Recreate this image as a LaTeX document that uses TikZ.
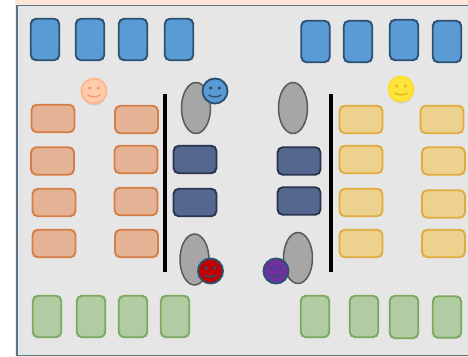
\documentclass[tikz,border=0pt]{standalone}
\usepackage{tikz}
\usetikzlibrary{shapes.geometric,shadows}
\definecolor{page}{HTML}{FDE6D8}
\definecolor{floorgrey}{HTML}{E6E6E6}
\definecolor{frameline}{HTML}{5D7389}
\definecolor{blueseat}{HTML}{5B9BD5}
\definecolor{blueline}{HTML}{2C5273}
\definecolor{orangeseat}{HTML}{E4B294}
\definecolor{orangeline}{HTML}{D57F47}
\definecolor{yellowseat}{HTML}{ECD18F}
\definecolor{yellowline}{HTML}{E0AC3F}
\definecolor{greenseat}{HTML}{B1CCA2}
\definecolor{greenline}{HTML}{7BA95E}
\definecolor{navyseat}{HTML}{55668F}
\definecolor{navyline}{HTML}{2A3550}
\definecolor{padgrey}{HTML}{A6A6A6}
\definecolor{padline}{HTML}{595959}
\definecolor{peachface}{HTML}{FFCBAB}
\definecolor{peachline}{HTML}{FFB68C}
\definecolor{peacheye}{HTML}{EFA071}
\definecolor{sunface}{HTML}{FFE53B}
\definecolor{sunline}{HTML}{FFDD2E}
\definecolor{sunmark}{HTML}{E5B820}
\definecolor{redface}{HTML}{C00000}
\definecolor{purpleface}{HTML}{7030A0}
\tikzset{
  tall/.style={rounded corners=3pt,line width=1.1pt,minimum width=0.57cm,minimum height=0.83cm,inner sep=0pt},
  wide/.style={rounded corners=3pt,line width=1.1pt,minimum width=0.86cm,minimum height=0.55cm,inner sep=0pt},
  topseat/.style={tall,draw=blueline,fill=blueseat},
  lowseat/.style={tall,draw=greenline,fill=greenseat},
  leftseat/.style={wide,draw=orangeline,fill=orangeseat},
  rightseat/.style={wide,draw=yellowline,fill=yellowseat},
  midseat/.style={wide,draw=navyline,fill=navyseat},
  pad/.style={ellipse,draw=padline,fill=padgrey,line width=0.85pt,minimum width=0.58cm,minimum height=1.02cm,inner sep=0pt},
  divider/.style={black,line width=2pt},
  face/.style={circle,line width=1.1pt,minimum size=0.5cm,inner sep=0pt},
  softface/.style={face,circular drop shadow={shadow xshift=0pt,shadow yshift=-1.2pt,shadow scale=1.02,opacity=0.3}}
}
% eyes and smile on a face node
\newcommand{\facemarks}[2]{
  \fill[#2] ([shift={(-4.2,-3)}]#1.center) circle (1.9);
  \fill[#2] ([shift={(4.2,-3)}]#1.center) circle (1.9);
  \draw[#2,line width=0.85pt] ([shift={(-6.5,4)}]#1.center) .. controls ([shift={(-2.5,6.5)}]#1.center) and ([shift={(2.5,6.5)}]#1.center) .. ([shift={(6.5,4)}]#1.center);
}

\begin{document}
\begin{tikzpicture}[x=0.02cm,y=-0.02cm]
  \useasboundingbox (0,0) rectangle (468,357);
  \fill[page] (15,0) rectangle (468,357);
  \draw[frameline,fill=floorgrey,line width=0.85pt] (17,5.5) rectangle (480,355.5);

  % top row
  \node[topseat] (top1) at (45,39.5) {};
  \node[topseat] (top2) at (90,39.5) {};
  \node[topseat] (top3) at (133,39.5) {};
  \node[topseat] (top4) at (179,39.5) {};
  \node[topseat] (top5) at (315.5,41.5) {};
  \node[topseat] (top6) at (358,41.5) {};
  \node[topseat,minimum height=0.81cm] (top7) at (404,40) {};
  \node[topseat] (top8) at (447,41.5) {};

  % left block
  \node[leftseat] (left1) at (53,118.5) {};
  \node[leftseat] (left2) at (136.5,119.5) {};
  \node[leftseat] (left3) at (52.5,161) {};
  \node[leftseat] (left4) at (136,159.5) {};
  \node[leftseat] (left5) at (54,202.5) {};
  \node[leftseat] (left6) at (136,201.5) {};
  \node[leftseat] (left7) at (54,243.5) {};
  \node[leftseat] (left8) at (136.5,243.5) {};

  % right block
  \node[rightseat] (right1) at (361,119.5) {};
  \node[rightseat] (right2) at (442,119.5) {};
  \node[rightseat] (right3) at (361,159.5) {};
  \node[rightseat] (right4) at (443.5,161) {};
  \node[rightseat] (right5) at (361,202.5) {};
  \node[rightseat] (right6) at (443.5,204) {};
  \node[rightseat] (right7) at (361,243.5) {};
  \node[rightseat] (right8) at (443.5,243.5) {};

  % middle
  \node[midseat] (mid1) at (195,159.5) {};
  \node[midseat] (mid2) at (195,202.5) {};
  \node[midseat] (mid3) at (299,161) {};
  \node[midseat] (mid4) at (299,201) {};
  \node[pad] (pad1) at (196,108) {};
  \node[pad] (pad2) at (293,108) {};
  \node[pad] (pad3) at (194.5,259.5) {};
  \node[pad] (pad4) at (298,258) {};

  \coordinate (divA) at (165,94);
  \coordinate (divB) at (165,272);
  \coordinate (divC) at (331,94);
  \coordinate (divD) at (331,272);
  \draw[divider] (divA) -- (divB);
  \draw[divider] (divC) -- (divD);

  % bottom row
  \node[lowseat] (low1) at (47,316.5) {};
  \node[lowseat] (low2) at (91,316.5) {};
  \node[lowseat] (low3) at (133,316.5) {};
  \node[lowseat] (low4) at (175,316.5) {};
  \node[lowseat] (low5) at (315,316.5) {};
  \node[lowseat] (low6) at (364,316.5) {};
  \node[lowseat,minimum height=0.85cm] (low7) at (404,317) {};
  \node[lowseat] (low8) at (447,317) {};

  % faces
  \node[softface,draw=peachline,fill=peachface] (peach) at (94,91) {};
  \facemarks{peach}{peacheye}
  \node[softface,draw=sunline,fill=sunface] (sun) at (401,89) {};
  \facemarks{sun}{sunmark}
  \node[face,draw=blueline,fill=blueseat] (bluey) at (215,91) {};
  \facemarks{bluey}{blueline}
  \node[face,draw=blueline,fill=redface] (redy) at (210.5,271) {};
  \facemarks{redy}{blueline}
  \node[face,draw=blueline,fill=purpleface] (purpley) at (276,271) {};
  \facemarks{purpley}{blueline}
\end{tikzpicture}
\end{document}
